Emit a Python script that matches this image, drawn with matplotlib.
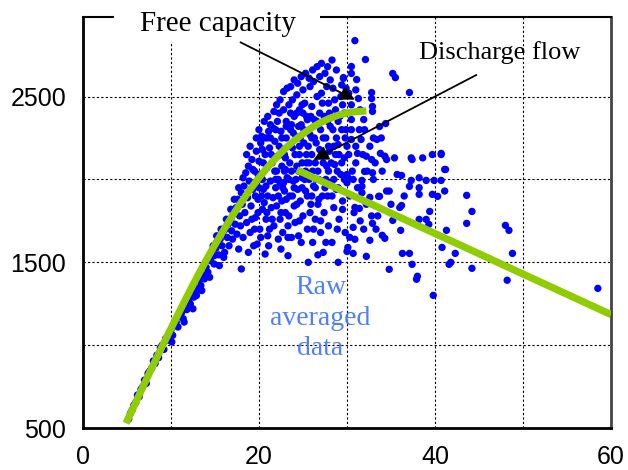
import matplotlib
import matplotlib.pyplot as plt
from matplotlib.patches import Rectangle

matplotlib.use('Agg')

# fitted curves
free_x = [4.9, 6, 7, 8, 9, 10, 11, 12, 13, 14, 15, 16, 17, 18, 19, 20, 21, 22, 23, 24,
          25, 26, 27, 28, 29, 30, 31, 32.2]
free_y = [530, 655, 770, 882, 992, 1100, 1207, 1312, 1414, 1512, 1606, 1696, 1782, 1863,
          1939, 2010, 2075, 2134, 2187, 2234, 2275, 2312, 2343, 2368, 2387, 2401, 2409, 2413]

flow_x = [24.3, 60.0]
flow_y = [2058, 1185]

# raw averaged data (x, y)
raw_pts = [
    # along the rising branch
    (5.2, 555), (5.4, 590), (5.6, 610), (5.8, 640), (6.0, 655), (6.2, 700), (6.4, 690),
    (6.6, 735), (6.8, 750), (7.0, 790), (7.2, 770), (7.4, 830), (7.6, 845), (7.8, 860),
    (8.0, 905), (8.2, 890), (8.4, 940), (8.6, 925), (8.8, 985), (9.0, 1000), (9.2, 975),
    (9.4, 1040), (9.6, 1030), (9.8, 1075), (10.0, 1090), (10.2, 1060), (10.4, 1120),
    (10.6, 1140), (10.8, 1110), (11.0, 1175), (11.2, 1195), (11.4, 1160), (11.6, 1230),
    (11.8, 1215), (12.0, 1275), (12.2, 1250), (12.4, 1310), (12.6, 1290), (12.8, 1345),
    (13.0, 1330), (13.2, 1390), (13.4, 1360), (13.6, 1425), (13.8, 1400), (14.0, 1470),
    (14.2, 1440), (12.9, 1300), (11.5, 1140), (10.1, 1020), (13.5, 1330), (14.4, 1410),
    (14.5, 1510), (14.7, 1550), (14.9, 1490), (15.1, 1585), (15.2, 1620), (15.4, 1545),
    (15.6, 1640), (15.8, 1600), (15.9, 1680), (16.1, 1560), (16.2, 1700), (16.4, 1650),
    (16.5, 1730), (16.6, 1600), (16.8, 1760), (16.9, 1690), (17.0, 1640), (17.1, 1790),
    (17.3, 1730), (17.4, 1830), (17.5, 1670), (17.6, 1880), (17.8, 1780), (17.9, 1720),
    (18.0, 1460), (18.0, 1920), (18.1, 1850), (18.2, 1650), (18.3, 1960), (18.4, 1800),
    (18.5, 2040), (18.6, 1740), (18.7, 1890),
    (16.8, 1820), (16.3, 1760), (15.7, 1700), (15.2, 1660), (14.8, 1600), (17.7, 1580),
    (18.8, 1560), (16.0, 1530), (15.5, 1480), (14.9, 1540), (13.9, 1420), (12.5, 1220),
    # dense cloud 19-22
    (18.8, 2080), (18.9, 1990), (19.0, 1680), (19.1, 1840), (19.2, 2120), (19.3, 1940),
    (19.4, 1600), (19.5, 2050), (19.6, 1770), (19.7, 2170), (19.8, 1990), (19.8, 1610),
    (19.9, 1880), (20.0, 2110), (20.1, 1700), (20.2, 2220), (20.3, 2030), (20.4, 1820),
    (20.5, 1940), (20.6, 2250), (20.7, 2150), (20.8, 1760), (20.9, 2070), (21.0, 1660),
    (21.0, 1900), (21.1, 2290), (21.2, 2190), (21.3, 1990), (21.4, 1830), (21.5, 2100),
    (21.6, 2310), (21.7, 1720), (21.8, 2230), (21.9, 1950), (22.0, 2050), (22.0, 1840),
    (22.1, 2350), (22.2, 1640), (20.4, 2180), (19.9, 2030), (21.3, 2250), (22.1, 2140),
    (20.8, 1960), (19.6, 1900), (21.5, 1760), (20.2, 1650),
    (17.2, 1880), (17.7, 1950), (18.2, 2010), (18.6, 2150), (19.0, 2200), (19.3, 2060),
    (19.7, 2250), (20.0, 2300), (20.3, 2260), (20.6, 2350), (21.0, 2380), (21.3, 2330),
    (21.7, 2410), (19.2, 1760), (19.5, 1700), (19.9, 1800), (20.3, 1900), (20.6, 1860),
    (20.9, 1800), (21.2, 1700), (21.6, 1890), (21.9, 2000), (21.8, 2050), (21.1, 1600),
    (20.7, 1550), (21.4, 2150), (20.9, 2250), (21.9, 2300), (20.5, 2100), (20.0, 1950),
    (20.4, 2000),
    # dense cloud 22-26
    (22.3, 2400), (22.3, 2200), (22.4, 1980), (22.4, 1760), (22.5, 2290), (22.6, 2080),
    (22.6, 1870), (22.7, 1680), (22.8, 2420), (22.9, 2150), (22.9, 1930), (23.0, 1800),
    (23.1, 2350), (23.1, 2250), (23.2, 2010), (23.3, 1540), (23.3, 1720), (23.4, 2450),
    (23.5, 2100), (23.5, 1900), (23.6, 2300), (23.7, 1650), (23.8, 2480), (23.8, 2190),
    (23.9, 1990), (24.0, 1840), (24.0, 2380), (24.1, 1740), (24.2, 2260), (24.3, 2080),
    (24.3, 2510), (24.4, 1940), (24.5, 1660), (24.6, 2420), (24.6, 2150), (24.7, 1870),
    (24.8, 2330), (24.9, 2010), (25.0, 2540), (25.0, 1780), (25.1, 2220), (25.2, 2460),
    (25.3, 1930), (25.4, 2100), (25.5, 1700), (25.5, 2360), (25.6, 1500), (25.7, 2000),
    (25.8, 2560), (25.8, 2270), (25.9, 1850), (26.0, 2150), (26.0, 2440), (26.1, 1620),
    (22.0, 2450), (22.4, 2480), (22.8, 2530), (23.2, 2550), (23.6, 2560), (24.0, 2600),
    (24.4, 2580), (24.8, 2620), (25.3, 2640), (25.7, 2610), (22.2, 1900), (22.5, 1800),
    (22.8, 1980), (23.1, 1880), (23.4, 1780), (23.7, 2050), (24.0, 1950), (24.3, 1850),
    (24.6, 1750), (24.9, 2100), (25.2, 2000), (25.5, 1900), (25.8, 1800), (22.6, 2250),
    (23.0, 2130), (23.7, 2330), (24.1, 2150), (24.5, 2320), (25.0, 2400), (25.6, 2200),
    (22.9, 2050), (23.9, 2280), (24.7, 2250), (25.9, 2380), (23.3, 1650), (24.8, 1620),
    (22.5, 1580), (22.2, 2000), (22.7, 1950), (23.0, 2060), (23.4, 2000), (23.8, 1900),
    (24.2, 2000), (24.5, 2050), (24.9, 1950), (25.3, 2050), (25.7, 2100), (23.1, 2320),
    (23.5, 2200), (24.3, 2400), (24.6, 2200), (25.1, 2300), (25.4, 2150), (22.5, 2150),
    # dense cloud 26-30
    (26.2, 2590), (26.2, 1960), (26.3, 2360), (26.4, 1760), (26.5, 2220), (26.6, 2500),
    (26.7, 1545), (26.7, 2050), (26.8, 1880), (26.9, 2620), (27.0, 2300), (27.0, 1680),
    (27.1, 2150), (27.2, 2460), (27.3, 1560), (27.3, 1990), (27.4, 1800), (27.5, 2640),
    (27.6, 2250), (27.7, 2080), (27.7, 2560), (27.8, 1900), (27.9, 1720), (28.0, 2400),
    (28.0, 2170), (28.1, 2600), (28.2, 1980), (28.3, 1620), (28.4, 2300), (28.5, 1830),
    (28.6, 2480), (28.6, 2090), (28.8, 2660), (28.8, 1940), (29.0, 1500), (29.0, 2210),
    (29.1, 1760), (29.2, 2380), (29.3, 2030), (29.4, 2570), (29.5, 1870), (29.6, 2610),
    (29.7, 2130), (29.8, 1680), (29.9, 2300), (30.0, 1980), (30.0, 1566), (26.5, 2000),
    (27.5, 1950), (28.9, 2050), (29.5, 2450), (26.9, 2400), (25.4, 2380), (24.9, 2450),
    (23.6, 2400),
    (26.1, 2660), (26.6, 2680), (27.1, 2700), (27.8, 2680), (28.3, 2720), (26.1, 2050),
    (26.4, 1950), (26.7, 1850), (27.0, 1750), (27.3, 2100), (27.6, 2000), (27.9, 2200),
    (28.2, 2100), (28.5, 2000), (28.8, 2250), (29.1, 2150), (29.4, 2300), (29.7, 2000),
    (30.0, 2200), (26.3, 2250), (26.9, 2180), (27.4, 2380), (28.1, 2320), (28.7, 2420),
    (29.3, 2500), (29.9, 2550), (27.1, 2520), (27.9, 2460), (28.4, 2550), (26.2, 1700),
    (27.6, 1620), (28.9, 1700), (26.0, 1900), (26.4, 2100), (26.8, 2000), (27.2, 1900),
    (27.5, 2150), (27.9, 2050), (28.3, 1900), (28.7, 2150), (29.0, 1950), (29.4, 2100),
    (29.8, 2250), (26.0, 2250), (26.6, 2350), (27.3, 2250), (27.8, 2350), (28.5, 2200),
    (29.0, 2350), (29.7, 2400),
    # scattered tail
    (30.9, 2837), (32.1, 2723), (30.5, 2681), (29.6, 2614), (30.5, 2639), (31.1, 2602),
    (35.2, 2639), (35.5, 2614), (37.1, 2524), (32.8, 2524), (32.8, 2488), (31.3, 2488),
    (32.9, 2440), (32.9, 2410), (31.9, 2361), (34.4, 2337), (33.7, 2319), (33.4, 2241),
    (30.5, 2361), (30.5, 2300), (30.5, 2241), (31.6, 2241), (40.7, 2157), (41.2, 2060),
    (31.2, 2157), (32.2, 2140), (32.8, 2120), (33.8, 2157), (34.3, 2140), (34.5, 2120),
    (35.4, 2130), (37.3, 2130), (38.6, 2130), (32.0, 2048), (32.9, 2040), (35.7, 2030),
    (36.2, 2024), (37.3, 1994), (38.2, 2010), (39.0, 1994), (39.9, 1994), (40.7, 1994),
    (30.0, 2030), (30.1, 2010), (30.7, 2000), (31.7, 1994), (31.7, 1958), (31.7, 1920),
    (34.5, 1930), (34.8, 1930), (33.7, 1898), (37.1, 1958), (38.2, 1950), (38.2, 1910),
    (39.7, 1910), (40.3, 1898), (41.1, 1930), (43.6, 1904), (44.2, 1807), (43.6, 1735),
    (48.0, 1723), (48.4, 1693), (48.8, 1554), (48.2, 1392), (44.2, 1464), (41.6, 1488),
    (41.8, 1500), (42.3, 1554), (40.8, 1590), (41.3, 1693), (39.4, 1807), (38.2, 1759),
    (39.0, 1759), (39.3, 1729), (36.0, 1831), (36.2, 1843), (35.2, 1753), (36.1, 1693),
    (34.0, 1663), (34.3, 1645), (32.6, 1633), (32.9, 1735), (30.7, 1711), (30.3, 1651),
    (30.9, 1639), (30.1, 1590), (30.7, 1554), (32.2, 1536), (36.3, 1554), (37.1, 1554),
    (37.4, 1488), (34.8, 1458), (38.0, 1416), (37.9, 1398), (39.8, 1301), (33.6, 1898),
    (32.6, 1892), (29.5, 1819), (30.9, 1831), (31.4, 1825), (58.5, 1343), (37.4, 2120),
    (39.7, 2150), (40.7, 2150), (41.1, 2060), (30.5, 2450), (31.0, 2540), (31.5, 2420),
    (30.2, 2520), (31.0, 2100), (33.0, 2250), (32.0, 2300), (31.5, 1750), (33.5, 1780),
    (33.0, 2000), (34.0, 2050), (36.5, 1900), (35.0, 1850), (30.2, 2150), (30.6, 2050),
    (31.0, 2200), (31.4, 2300), (31.8, 2150), (32.3, 2050), (32.6, 2200), (33.2, 2100),
    (33.9, 2250), (30.3, 1900), (30.8, 1800), (31.2, 1950), (32.2, 1850), (32.8, 1780),
    (33.3, 1700), (31.9, 1700),
]
raw_x = [p[0] for p in raw_pts]
raw_y = [p[1] for p in raw_pts]

x_ticks = [0, 10, 20, 30, 40, 50, 60]
x_labels = ['0', '', '20', '', '40', '', '60']
y_ticks = [500, 1000, 1500, 2000, 2500]
y_labels = ['500', '', '1500', '', '2500']

serif = ['Liberation Serif', 'DejaVu Serif']
sans = ['Liberation Sans', 'DejaVu Sans']

fig = plt.figure(figsize=(6.28, 4.70), dpi=100)
ax = fig.add_axes([0.132, 0.089, 0.841, 0.875])

ax.scatter(raw_x, raw_y, s=28, color='#0000ff', edgecolors='none', zorder=3)
ax.plot(free_x, free_y, color='#8fcc00', lw=5.2, solid_capstyle='butt', zorder=4)
ax.plot(flow_x, flow_y, color='#8fcc00', lw=5.2, solid_capstyle='butt', zorder=4)

ax.set_xlim(0, 60)
ax.set_ylim(500, 2980)
ax.set_xticks(x_ticks)
ax.set_xticklabels(x_labels, fontfamily=sans, fontsize=18)
ax.set_yticks(y_ticks)
ax.set_yticklabels(y_labels, fontfamily=sans, fontsize=18)
ax.tick_params(length=0, pad=12)
ax.grid(True, color='black', linestyle=(0, (2, 2)), lw=0.8)
ax.set_axisbelow(True)

for side in ['left', 'bottom']:
    ax.spines[side].set_linewidth(2)
ax.spines['right'].set_linewidth(2)
ax.spines['right'].set_color('#444444')
ax.spines['top'].set_linewidth(1.5)

# gap in the top frame behind the label
ax.add_patch(Rectangle((0.059, 0.936), 0.39, 0.1, transform=ax.transAxes,
                       facecolor='white', edgecolor='none', clip_on=False, zorder=5))

ax.text(15.3, 2893, 'Free capacity', fontfamily=serif, fontsize=21,
        ha='center', va='baseline', zorder=6)
ax.text(47.3, 2728, 'Discharge flow', fontfamily=serif, fontsize=19,
        ha='center', va='baseline', zorder=6)
ax.text(27.0, 1164, 'Raw\naveraged\ndata', fontfamily=serif, fontsize=20,
        color='#4f7fff', ha='center', va='center', linespacing=1.3, zorder=6)

arrow = dict(arrowstyle='-|>', color='black', lw=1.3, mutation_scale=22,
             shrinkA=0, shrinkB=0)
ax.annotate('', xy=(30.9, 2481), xytext=(17.9, 2827), arrowprops=arrow, zorder=6)
ax.annotate('', xy=(26.2, 2118), xytext=(44.7, 2630), arrowprops=arrow, zorder=6)

plt.savefig('out.png', dpi=100)
plt.close()
